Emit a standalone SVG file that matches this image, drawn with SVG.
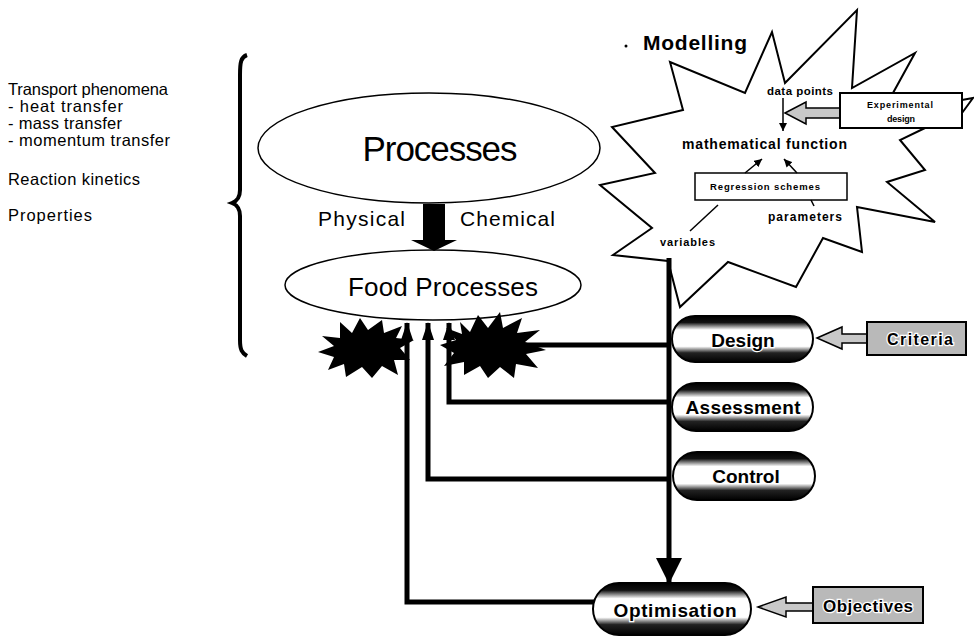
<svg xmlns="http://www.w3.org/2000/svg" width="974" height="638" viewBox="0 0 974 638">
<style>
.t{font-family:"Liberation Sans",Arial,sans-serif;fill:#000}
.b{font-weight:bold}
.ln{stroke:#000;stroke-width:5;fill:none}
.thin{stroke:#000;stroke-width:1.5;fill:none}
.pill{fill:url(#pg);stroke:#000;stroke-width:2}
.pt{font-family:"Liberation Sans",Arial,sans-serif;font-weight:bold;fill:#000;stroke:#fff;stroke-width:2.5;paint-order:stroke;text-anchor:middle}
.gbox{fill:#b9b9b9;stroke:#000;stroke-width:2}
.harrow{fill:#c8c8c8;stroke:#000;stroke-width:1.5}
</style>
<defs>
<linearGradient id="pg" x1="0" y1="0" x2="0" y2="1">
<stop offset="0" stop-color="#000"/>
<stop offset="0.14" stop-color="#111"/>
<stop offset="0.3" stop-color="#fff"/>
<stop offset="0.66" stop-color="#fff"/>
<stop offset="0.8" stop-color="#222"/>
<stop offset="1" stop-color="#000"/>
</linearGradient>
<marker id="up" markerUnits="userSpaceOnUse" markerWidth="18" markerHeight="12" refX="17" refY="6" orient="auto" viewBox="0 0 18 12">
<path d="M0 0 L18 6 L0 12 Z" fill="#000"/>
</marker>
<marker id="big" markerUnits="userSpaceOnUse" markerWidth="26" markerHeight="26" refX="24" refY="13" orient="auto" viewBox="0 0 26 26">
<path d="M0 0 L26 13 L0 26 Z" fill="#000"/>
</marker>
<marker id="sm" markerUnits="userSpaceOnUse" markerWidth="8" markerHeight="8" refX="8" refY="4" orient="auto" viewBox="0 0 8 8">
<path d="M0 0 L8 4 L0 8 Z" fill="#000"/>
</marker>
</defs>
<rect width="974" height="638" fill="#fff"/>

<g id="left-text">
<text class="t" x="8" y="95" font-size="16.5" textLength="160">Transport phenomena</text>
<text class="t" x="8" y="112" font-size="16.5" textLength="115">- heat transfer</text>
<text class="t" x="8" y="129" font-size="16.5" textLength="114">- mass transfer</text>
<text class="t" x="8" y="146" font-size="16.5" textLength="162">- momentum transfer</text>
<text class="t" x="8" y="185" font-size="16.5" textLength="132">Reaction kinetics</text>
<text class="t" x="8" y="221" font-size="16.5" textLength="84">Properties</text>
<path d="M247 55 C241 57 240 62 240 75 L240 190 C240 198 237 201 232 203 C237 205 240 208 240 216 L240 340 C240 350 242 353 247 356" stroke="#000" stroke-width="4" fill="none"/>
</g>

<g id="processes">
<ellipse cx="429" cy="148" rx="171" ry="55" fill="#fff" stroke="#000" stroke-width="1.5"/>
<text class="t" x="440" y="161" font-size="35" text-anchor="middle" textLength="155">Processes</text>
</g>

<g id="food-processes">
<ellipse cx="433" cy="285" rx="148" ry="35" fill="#fff" stroke="#000" stroke-width="1.5"/>
<text class="t" x="443" y="296" font-size="26" text-anchor="middle" textLength="190">Food Processes</text>
</g>

<g id="modelling">
<polygon points="857,10 852,88 915,53 893,93 962,100 973,98 962,113 925,128 900,140 925,170 887,182 935,222 857,207 862,252 823,238 796,287 728,262 680,307 668,261 613,255 652,228 600,185 655,173 612,127 683,110 670,62 745,93 772,32 785,83" fill="#fff" stroke="#000" stroke-width="2" stroke-linejoin="miter"/>
<circle cx="626" cy="46" r="1.5" fill="#000"/>
<text class="t b" x="643" y="50" font-size="21" textLength="104">Modelling</text>
<text class="t b" x="767" y="95" font-size="11.5" textLength="66">data points</text>
<line x1="783" y1="98" x2="783" y2="131" class="thin" marker-end="url(#sm)"/>
<text class="t b" x="682" y="149" font-size="14" textLength="165">mathematical function</text>
<rect x="695" y="173" width="152" height="27" fill="#fff" stroke="#000" stroke-width="1.5"/>
<text class="t b" x="765" y="190" font-size="9.5" text-anchor="middle" textLength="110">Regression schemes</text>
<line x1="745" y1="173" x2="762" y2="159" class="thin" marker-end="url(#sm)"/>
<line x1="797" y1="173" x2="784" y2="159" class="thin" marker-end="url(#sm)"/>
<line x1="690" y1="231" x2="718" y2="205" class="thin"/>
<line x1="811" y1="200" x2="814" y2="206" class="thin"/>
<text class="t b" x="768" y="221" font-size="12" textLength="74">parameters</text>
<text class="t b" x="660" y="246" font-size="11" textLength="55">variables</text>
</g>

<g id="experimental-design">
<polygon class="harrow" points="785,113 806,102 806,108 840,108 840,118 806,118 806,124"/>
<rect x="840" y="93" width="122" height="35" fill="#fff" stroke="#000" stroke-width="2"/>
<text class="t b" x="900" y="108" font-size="9" text-anchor="middle" textLength="66">Experimental</text>
<text class="t b" x="901" y="122" font-size="9" text-anchor="middle" textLength="28">design</text>
</g>

<g id="physical-chemical">
<polygon points="423,204 445,204 445,240 457,240 434,251 411,240 423,240" fill="#000"/>
<text class="t" x="318" y="226" font-size="21" textLength="87">Physical</text>
<text class="t" x="460" y="226" font-size="21" textLength="95">Chemical</text>
</g>

<g id="bursts">
<polygon fill="#000" points="340,322 352,333 360,318 368,330 382,320 384,333 402,326 396,338 414,340 400,348 410,360 394,360 398,375 382,366 372,378 362,367 346,377 344,364 328,370 334,357 318,352 334,346 322,336 340,338"/>
<polygon fill="#000" points="460,322 470,332 478,315 488,328 500,312 503,328 522,318 517,333 540,330 525,342 546,350 526,354 538,368 516,364 514,378 500,367 488,378 480,366 464,375 464,362 444,366 454,353 440,345 456,340 446,328 462,334"/>
</g>

<g id="connectors">
<line class="ln" x1="669" y1="258" x2="669" y2="582" marker-end="url(#big)"/>
<line class="ln" x1="669" y1="345" x2="520" y2="345"/>
<polyline class="ln" points="669,402 449,402 449,323" marker-end="url(#up)"/>
<polyline class="ln" points="669,479 428,479 428,323" marker-end="url(#up)"/>
<polyline class="ln" points="595,602 407,602 407,323" marker-end="url(#up)"/>
</g>

<g id="design">
<rect class="pill" x="672" y="316" width="141" height="46" rx="23"/>
<text class="pt" x="743" y="347" font-size="19">Design</text>
</g>
<g id="assessment">
<rect class="pill" x="672" y="383" width="141" height="48" rx="24"/>
<text class="pt" x="743" y="414" font-size="19" textLength="115">Assessment</text>
</g>
<g id="control">
<rect class="pill" x="673" y="452" width="142" height="48" rx="24"/>
<text class="pt" x="746" y="483" font-size="19">Control</text>
</g>
<g id="optimisation">
<rect class="pill" x="593" y="583" width="158" height="52" rx="26"/>
<text class="pt" x="675" y="617" font-size="19" textLength="123">Optimisation</text>
</g>

<g id="criteria">
<polygon class="harrow" points="817,338 842,327 842,334 867,334 867,343 842,343 842,349"/>
<rect class="gbox" x="867" y="322" width="99" height="33"/>
<text class="pt" x="920" y="345" font-size="16" textLength="66">Criteria</text>
</g>

<g id="objectives">
<polygon class="harrow" points="758,607 786,597 786,603 813,603 813,611 786,611 786,617"/>
<rect class="gbox" x="813" y="587" width="110" height="36"/>
<text class="pt" x="868" y="612" font-size="17" textLength="90">Objectives</text>
</g>
</svg>
